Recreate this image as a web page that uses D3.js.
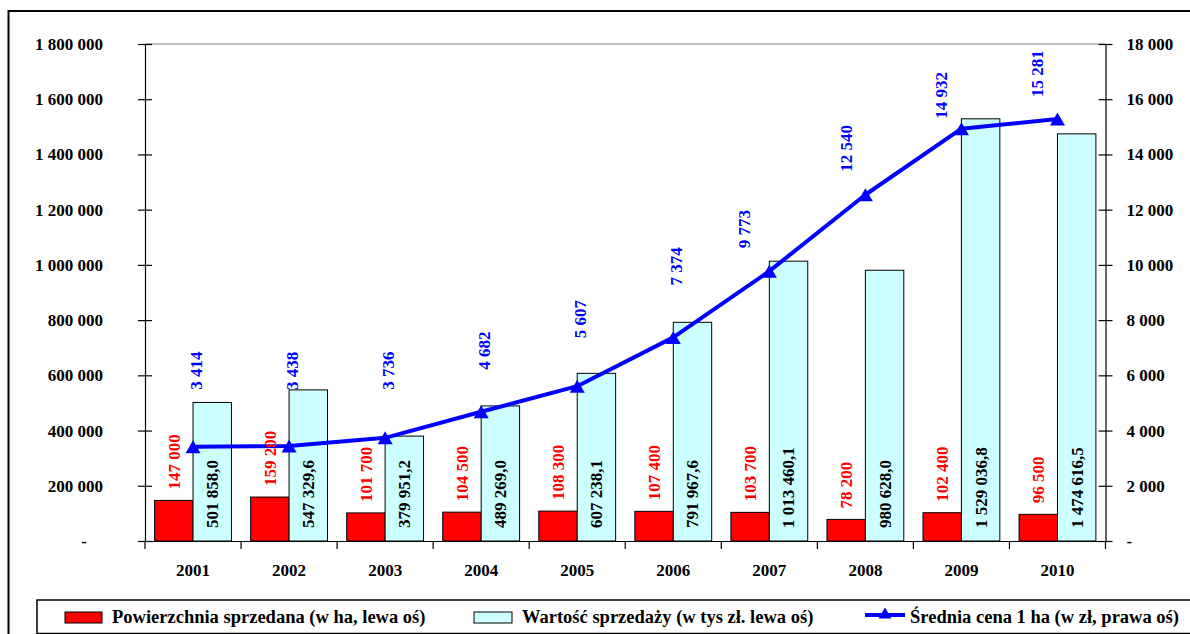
<!DOCTYPE html>
<html>
<head>
<meta charset="utf-8">
<script src="https://cdn.jsdelivr.net/npm/d3@7"></script>
<style>
  html, body { margin: 0; padding: 0; background: #fff; }
  svg { display: block; }
  text { font-family: "Liberation Serif", "Times New Roman", serif; font-weight: bold; }
</style>
</head>
<body>
<svg id="chart" width="1190" height="634"></svg>
<script>
// ---- data ----
const years = ["2001","2002","2003","2004","2005","2006","2007","2008","2009","2010"];
const areaSold = [147000, 159200, 101700, 104500, 108300, 107400, 103700, 78200, 102400, 96500];
const saleValue = [501858.0, 547329.6, 379951.2, 489269.0, 607238.1, 791967.6, 1013460.1, 980628.0, 1529036.8, 1474616.5];
const avgPrice = [3414, 3438, 3736, 4682, 5607, 7374, 9773, 12540, 14932, 15281];
const leftTicks = [0, 200000, 400000, 600000, 800000, 1000000, 1200000, 1400000, 1600000, 1800000];
const rightTicks = [0, 2000, 4000, 6000, 8000, 10000, 12000, 14000, 16000, 18000];
const seriesNames = ["Powierzchnia sprzedana (w ha, lewa oś)", "Wartość sprzedaży (w tys zł. lewa oś)", "Średnia cena 1 ha (w zł, prawa oś)"];

// layout nudges for the manually placed price labels (px: dx, gap above point)
const priceLabelDx = [3, 3, 3, 3, 3, 3, -25, -19, -20, -20];
const priceLabelGap = [57, 56, 48, 42, 48, 52, 23, 23, 10, 22];

const loc = d3.formatLocale({decimal: ",", thousands: "\u00a0", grouping: [3], currency: ["", ""]});
const fInt = loc.format(",.0f");
const fDec = loc.format(",.1f");
const axFmt = v => v === 0 ? "-" : fInt(v);

const svg = d3.select("#chart");
const RED = "#FF0000", CYAN = "#CCFFFF", BLUE = "#0000FF";

// outer frame
svg.append("rect").attr("x", 8.5).attr("y", 11).attr("width", 1300).attr("height", 800)
  .attr("fill", "none").attr("stroke", "#000").attr("stroke-width", 2);

const plotL = 145, plotR = 1105.5, plotT = 44, plotB = 541;

const x0 = d3.scaleBand().domain(years).range([plotL, plotR]).padding(0);
const x1 = d3.scaleBand().domain(["area", "value"]).range([0, x0.bandwidth()]).paddingInner(0).paddingOuter(0.25);
const yL = d3.scaleLinear().domain([0, 1800000]).range([plotB, plotT]);
const yR = d3.scaleLinear().domain([0, 18000]).range([plotB, plotT]);

// top border of plot area
svg.append("line").attr("x1", plotL).attr("x2", plotR).attr("y1", yL(1800000)).attr("y2", yL(1800000))
  .attr("stroke", "#808080").attr("stroke-width", 1);

// bars
const g = svg.append("g");
g.selectAll("rect.area").data(years).join("rect").attr("class", "area")
  .attr("x", d => x0(d) + x1("area")).attr("width", x1.bandwidth())
  .attr("y", (d, i) => yL(areaSold[i])).attr("height", (d, i) => yL(0) - yL(areaSold[i]))
  .attr("fill", RED).attr("stroke", "#000").attr("stroke-width", 1);
g.selectAll("rect.value").data(years).join("rect").attr("class", "value")
  .attr("x", d => x0(d) + x1("value")).attr("width", x1.bandwidth())
  .attr("y", (d, i) => yL(saleValue[i])).attr("height", (d, i) => yL(0) - yL(saleValue[i]))
  .attr("fill", CYAN).attr("stroke", "#000").attr("stroke-width", 1);

// axes
const axL = svg.append("g").attr("transform", `translate(${plotL},0)`)
  .call(d3.axisLeft(yL).tickValues(leftTicks).tickFormat(axFmt).tickSize(7).tickSizeOuter(0).tickPadding(35));
const axR = svg.append("g").attr("transform", `translate(${plotR},0)`)
  .call(d3.axisRight(yR).tickValues(rightTicks).tickFormat(axFmt).tickSize(7).tickSizeOuter(0).tickPadding(14));
[axL, axR].forEach(a => {
  a.select(".domain").attr("stroke", "#000").attr("stroke-width", 1.2);
  a.selectAll(".tick line").attr("stroke", "#000").attr("stroke-width", 1.2);
  a.selectAll(".tick text").attr("font-size", 17).attr("font-family", "Liberation Serif").attr("font-weight", "bold").attr("fill", "#000");
});
axL.selectAll(".tick line").attr("x1", 7);
axR.selectAll(".tick line").attr("x1", -7);
axL.selectAll(".tick text").filter(d => d === 0).attr("x", -58);

// bottom axis
const axB = svg.append("g").attr("transform", `translate(0,${plotB})`)
  .call(d3.axisBottom(x0).tickSize(0).tickPadding(0).tickSizeOuter(0));
axB.select(".domain").attr("stroke", "#000").attr("stroke-width", 1.2);
axB.selectAll(".tick text").attr("font-size", 17).attr("font-family", "Liberation Serif").attr("font-weight", "bold")
  .attr("fill", "#000").attr("y", 29).attr("dy", "0.35em");
axB.selectAll("line.bt").data(d3.range(years.length + 1)).join("line").attr("class", "bt")
  .attr("x1", i => plotL + i * x0.step()).attr("x2", i => plotL + i * x0.step())
  .attr("y1", 0).attr("y2", 8).attr("stroke", "#000").attr("stroke-width", 1.2);

// price line
const xc = d => x0(d) + x0.bandwidth() / 2;
const line = d3.line().x((d, i) => xc(years[i])).y(d => yR(d));
svg.append("path").datum(avgPrice).attr("d", line).attr("fill", "none").attr("stroke", BLUE)
  .attr("stroke-width", 4).attr("stroke-linejoin", "round");
const tri = "M0,-6.5L7.5,6.5L-7.5,6.5Z";
svg.selectAll("path.mk").data(avgPrice).join("path").attr("class", "mk")
  .attr("d", tri).attr("transform", (d, i) => `translate(${xc(years[i])},${yR(d)})`).attr("fill", BLUE);

// data labels (rotated)
const rot = (sel) => sel.attr("text-anchor", "start").attr("dy", "0.35em").attr("font-size", 17);
svg.selectAll("text.la").data(areaSold).join("text").attr("class", "la").call(rot)
  .attr("transform", (d, i) => `translate(${x0(years[i]) + x1("area") + x1.bandwidth() / 2},${yL(d) - 11}) rotate(-90)`)
  .attr("fill", RED).text(d => fInt(d));
svg.selectAll("text.lv").data(saleValue).join("text").attr("class", "lv").call(rot)
  .attr("transform", (d, i) => `translate(${x0(years[i]) + x1("value") + x1.bandwidth() / 2},${yL(0) - 13}) rotate(-90)`)
  .attr("fill", "#000").text(d => fDec(d));
svg.selectAll("text.lp").data(avgPrice).join("text").attr("class", "lp").call(rot)
  .attr("transform", (d, i) => `translate(${xc(years[i]) + priceLabelDx[i]},${yR(d) - priceLabelGap[i]}) rotate(-90)`)
  .attr("fill", BLUE).text(d => fInt(d));

// legend
const lg = svg.append("g");
lg.append("rect").attr("x", 37).attr("y", 600).attr("width", 1300).attr("height", 33.5)
  .attr("fill", "#fff").attr("stroke", "#000").attr("stroke-width", 1.5);
lg.append("rect").attr("x", 65).attr("y", 612).attr("width", 37).attr("height", 11).attr("fill", RED).attr("stroke", "#000");
lg.append("text").attr("x", 112).attr("y", 623).attr("font-size", 18.5).text(seriesNames[0]);
lg.append("rect").attr("x", 474).attr("y", 612).attr("width", 38).attr("height", 11).attr("fill", CYAN).attr("stroke", "#000");
lg.append("text").attr("x", 522).attr("y", 623).attr("font-size", 18.5).text(seriesNames[1]);
lg.append("line").attr("x1", 865).attr("x2", 905).attr("y1", 615).attr("y2", 615).attr("stroke", BLUE).attr("stroke-width", 4);
lg.append("path").attr("d", "M0,-5.5L6.5,5.5L-6.5,5.5Z").attr("transform", "translate(885,613)").attr("fill", BLUE);
lg.append("text").attr("x", 910).attr("y", 623).attr("font-size", 18.5).text(seriesNames[2]);
</script>
</body>
</html>
